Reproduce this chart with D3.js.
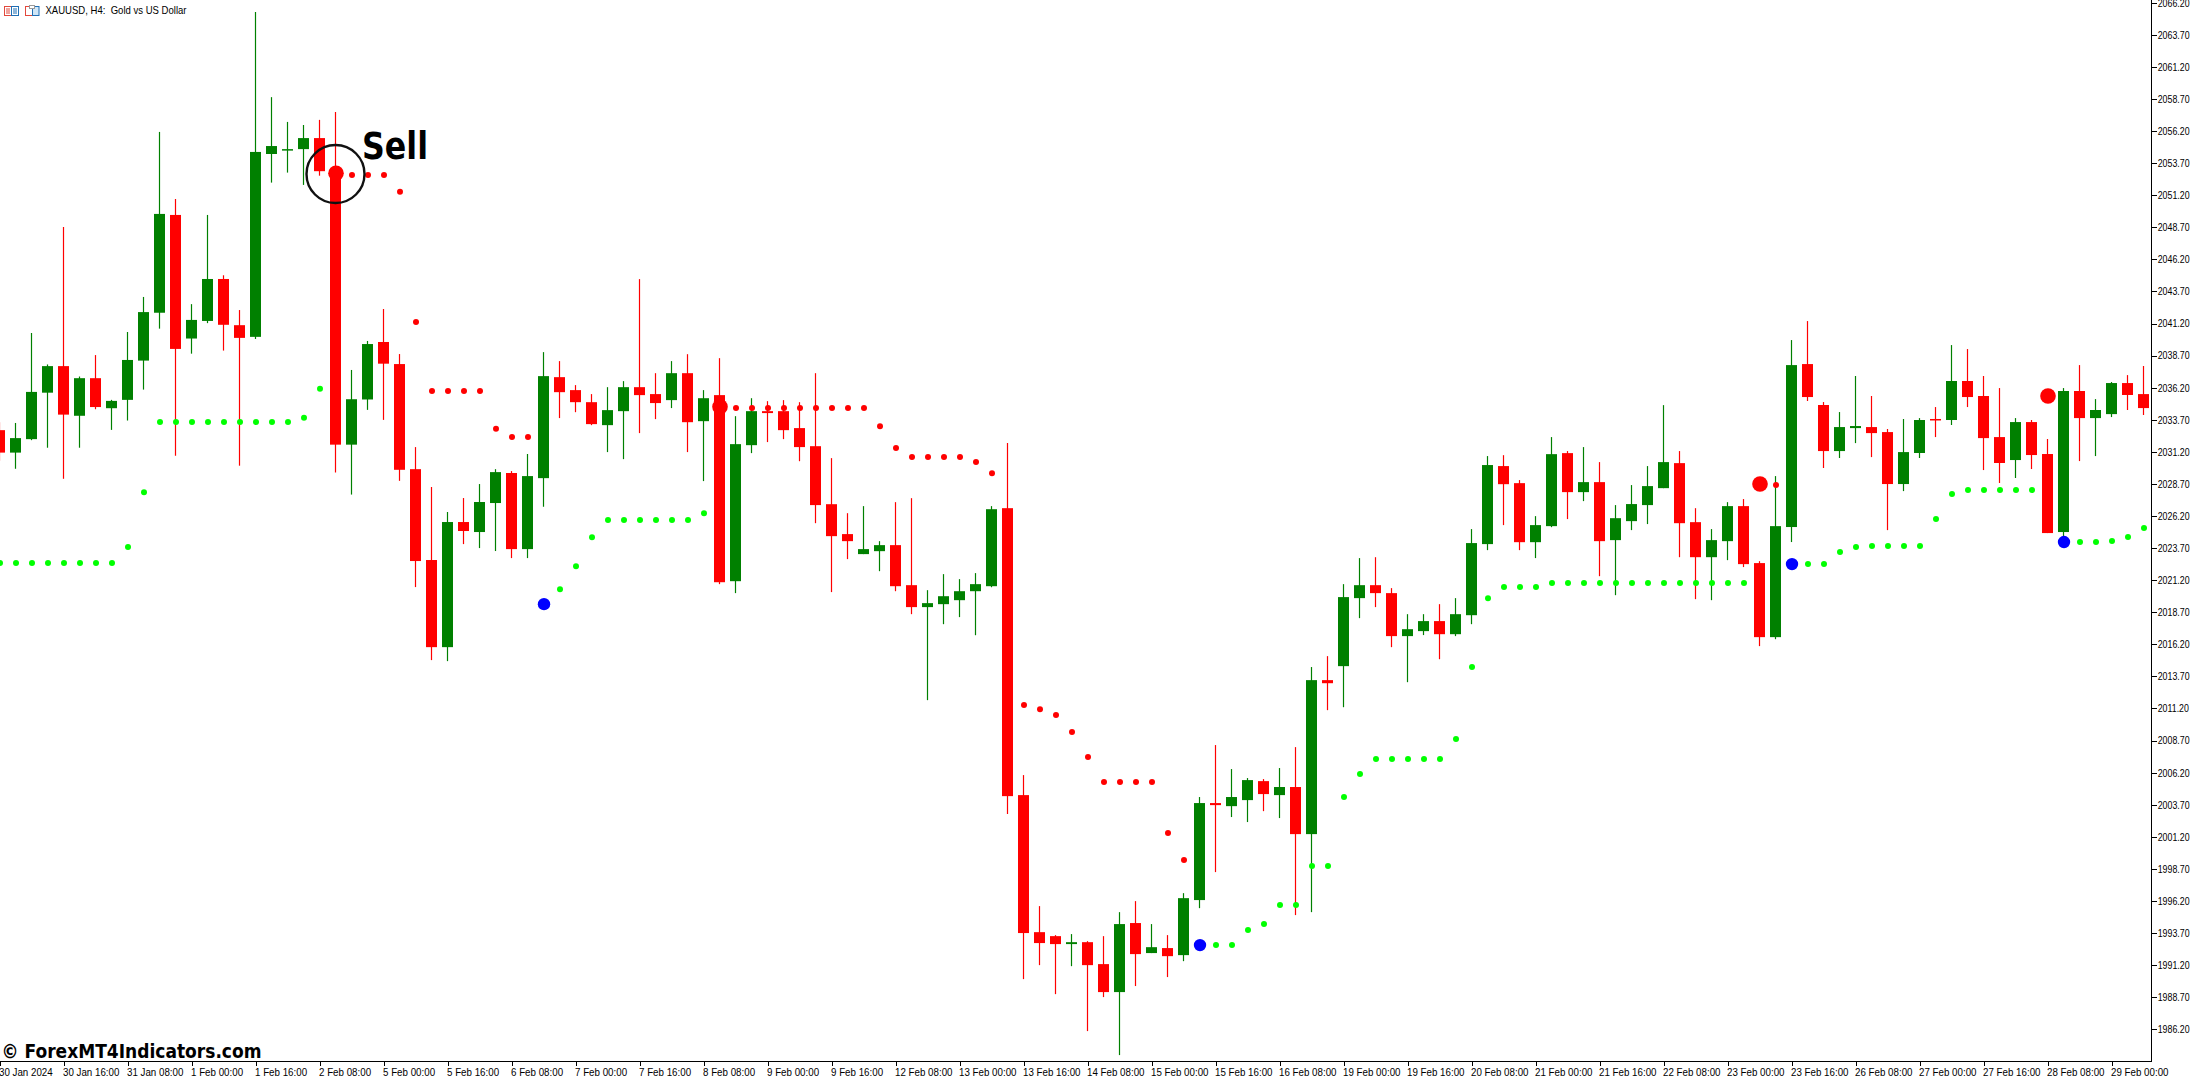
<!DOCTYPE html>
<html>
<head>
<meta charset="utf-8">
<title>XAUUSD, H4</title>
<script src="https://cdn.jsdelivr.net/npm/d3@7"></script>
<style>
    html, body { margin: 0; padding: 0; background: #fff; overflow: hidden; }
    svg { display: block; }
    .axis text { font-family: "Liberation Sans", sans-serif; font-size: 10.5px; fill: #000; }
    .axis path, .axis line { stroke: #000; stroke-width: 1; shape-rendering: crispEdges; }
    .axis path { stroke-width: 1.4; }
</style>
</head>
<body>
<svg id="chart" width="2192" height="1077"></svg>
<script>
'use strict';

var open = [
    2032.89, 2031.14, 2032.19, 2035.81, 2037.88, 2034.01, 2036.94, 2034.60, 2035.25, 2038.31,
    2042.04, 2049.66, 2040.03, 2041.40, 2044.67, 2041.07, 2040.16, 2054.41, 2054.68, 2054.79,
    2055.65, 2053.07, 2031.76, 2035.28, 2039.76, 2038.04, 2029.85, 2022.77, 2015.98, 2025.73,
    2024.95, 2027.21, 2029.55, 2023.62, 2029.15, 2037.02, 2036.01, 2035.07, 2033.28, 2034.37,
    2036.24, 2035.70, 2035.23, 2037.33, 2033.59, 2035.62, 2021.12, 2031.72, 2034.37, 2034.37,
    2033.05, 2031.64, 2027.12, 2024.79, 2023.23, 2023.46, 2023.93, 2020.81, 2019.10, 2019.33,
    2019.64, 2020.34, 2020.73, 2026.81, 2004.45, 1993.77, 1993.46, 1992.84, 1992.99, 1991.28,
    1989.10, 1994.48, 1992.14, 1992.53, 1991.98, 1996.27, 2003.83, 2003.59, 2004.06, 2005.54,
    2004.45, 2005.08, 2001.41, 2013.41, 2014.50, 2019.80, 2020.81, 2020.19, 2016.84, 2017.23,
    2018.01, 2016.99, 2018.47, 2024.01, 2030.09, 2028.76, 2024.16, 2025.41, 2031.10, 2028.06,
    2028.84, 2024.32, 2025.80, 2027.05, 2028.37, 2030.32, 2025.72, 2022.99, 2024.24, 2026.97,
    2022.53, 2016.76, 2025.34, 2038.04, 2034.85, 2031.26, 2033.05, 2033.13, 2032.74, 2028.69,
    2031.11, 2033.76, 2033.68, 2036.72, 2035.55, 2032.35, 2030.56, 2033.52, 2031.03, 2024.95,
    2035.94, 2033.83, 2034.14, 2036.56, 2035.70
];
var high = [
    2033.50, 2033.45, 2040.46, 2038.01, 2048.72, 2037.07, 2038.74, 2035.25, 2040.54, 2043.27,
    2056.13, 2050.90, 2042.71, 2049.66, 2044.96, 2042.25, 2065.47, 2058.84, 2056.91, 2056.67,
    2057.07, 2057.69, 2037.58, 2039.84, 2042.33, 2038.82, 2031.57, 2028.46, 2026.51, 2027.60,
    2028.69, 2029.85, 2029.70, 2031.03, 2038.97, 2038.27, 2036.40, 2035.70, 2036.24, 2036.71,
    2044.66, 2037.33, 2038.27, 2038.81, 2036.01, 2038.50, 2033.98, 2035.38, 2035.15, 2035.23,
    2035.07, 2037.33, 2030.71, 2026.42, 2026.97, 2024.24, 2027.28, 2027.59, 2020.42, 2021.67,
    2021.28, 2021.75, 2026.97, 2031.88, 2006.01, 1995.80, 1993.54, 1993.62, 1993.07, 1993.46,
    1995.33, 1996.19, 1994.40, 1993.54, 1996.81, 2004.30, 2008.35, 2006.48, 2005.78, 2005.70,
    2006.56, 2008.19, 2014.43, 2015.28, 2020.89, 2022.92, 2022.99, 2020.58, 2018.55, 2018.55,
    2019.33, 2019.80, 2025.18, 2030.87, 2030.94, 2029.00, 2026.19, 2032.35, 2031.26, 2031.57,
    2030.40, 2027.05, 2028.61, 2030.09, 2034.84, 2031.26, 2026.81, 2025.18, 2027.28, 2027.52,
    2022.68, 2029.31, 2039.91, 2041.39, 2035.08, 2034.30, 2037.11, 2035.55, 2032.98, 2033.76,
    2033.83, 2034.69, 2039.52, 2039.21, 2037.11, 2036.17, 2033.83, 2033.68, 2032.20, 2036.17,
    2037.96, 2035.31, 2036.64, 2037.18, 2037.89
];
var low = [
    2030.50, 2029.88, 2032.11, 2031.52, 2029.10, 2031.52, 2034.52, 2032.91, 2033.64, 2036.05,
    2040.80, 2030.90, 2038.85, 2041.23, 2039.09, 2030.12, 2040.00, 2052.18, 2052.96, 2052.00,
    2052.72, 2029.59, 2027.87, 2034.47, 2033.69, 2028.94, 2020.66, 2014.97, 2014.89, 2024.01,
    2023.70, 2023.47, 2022.92, 2022.92, 2026.92, 2033.83, 2034.29, 2033.28, 2031.18, 2030.63,
    2032.66, 2033.75, 2034.61, 2031.18, 2028.92, 2020.89, 2020.19, 2031.10, 2031.96, 2032.19,
    2030.47, 2025.64, 2020.27, 2022.84, 2023.23, 2021.90, 2020.34, 2018.55, 2011.85, 2017.77,
    2018.32, 2016.91, 2020.65, 2002.97, 1990.11, 1991.20, 1988.94, 1991.12, 1986.06, 1988.71,
    1984.19, 1989.57, 1992.14, 1990.27, 1991.51, 1995.64, 1998.45, 2002.74, 2002.35, 2003.20,
    2002.66, 1995.10, 1995.33, 2011.07, 2011.30, 2018.24, 2019.10, 2015.98, 2013.25, 2016.92,
    2015.04, 2016.84, 2017.77, 2023.54, 2025.49, 2023.54, 2022.92, 2025.33, 2025.96, 2027.36,
    2021.51, 2020.03, 2025.10, 2025.57, 2028.37, 2022.99, 2019.72, 2019.64, 2022.76, 2022.22,
    2016.06, 2016.60, 2024.17, 2035.16, 2029.94, 2030.72, 2031.88, 2030.79, 2025.10, 2028.14,
    2030.72, 2032.35, 2033.29, 2034.69, 2029.78, 2028.77, 2029.16, 2029.86, 2024.87, 2024.64,
    2030.48, 2030.87, 2033.91, 2034.46, 2034.07
];
var close = [
    2031.14, 2032.27, 2035.87, 2037.88, 2034.10, 2036.94, 2034.69, 2035.17, 2038.36, 2042.09,
    2049.74, 2039.22, 2041.48, 2044.67, 2041.10, 2040.08, 2054.57, 2055.03, 2054.79, 2055.65,
    2053.07, 2031.76, 2035.30, 2039.60, 2038.07, 2029.80, 2022.69, 2015.98, 2025.73, 2025.03,
    2027.29, 2029.62, 2023.62, 2029.31, 2037.10, 2035.85, 2035.07, 2033.36, 2034.45, 2036.24,
    2035.62, 2035.00, 2037.33, 2033.51, 2035.38, 2021.04, 2031.80, 2034.37, 2034.22, 2032.89,
    2031.57, 2027.05, 2024.63, 2024.24, 2023.62, 2023.93, 2020.73, 2019.10, 2019.41, 2019.95,
    2020.34, 2020.89, 2026.73, 2004.37, 1993.70, 1992.92, 1992.84, 1992.99, 1991.20, 1989.10,
    1994.40, 1992.06, 1992.60, 1991.90, 1996.42, 2003.83, 2003.67, 2004.30, 2005.62, 2004.53,
    2005.08, 2001.41, 2013.41, 2013.17, 2019.88, 2020.81, 2020.19, 2016.84, 2017.38, 2018.01,
    2016.99, 2018.55, 2024.09, 2030.17, 2028.68, 2024.16, 2025.49, 2031.02, 2028.06, 2028.84,
    2024.24, 2026.03, 2027.13, 2028.53, 2030.40, 2025.64, 2022.99, 2024.32, 2026.97, 2022.45,
    2016.76, 2025.41, 2037.96, 2035.47, 2031.26, 2033.13, 2033.21, 2032.66, 2028.69, 2031.18,
    2033.68, 2033.68, 2036.72, 2035.47, 2032.27, 2030.33, 2033.52, 2030.95, 2024.87, 2035.94,
    2033.83, 2034.46, 2036.56, 2035.63, 2034.61
];

// small lime dots under the price: [candle index, price]
var greenDots = [
    [0, 2022.53], [1, 2022.53], [2, 2022.53], [3, 2022.53], [4, 2022.53], [5, 2022.53], [6, 2022.53], [7, 2022.53],
    [8, 2023.78], [9, 2028.06], [10, 2033.53], [11, 2033.53], [12, 2033.53], [13, 2033.53], [14, 2033.53],
    [15, 2033.53], [16, 2033.53], [17, 2033.53], [18, 2033.53], [19, 2033.85], [20, 2036.11],
    [35, 2020.50], [36, 2022.29], [37, 2024.55], [38, 2025.88], [39, 2025.88], [40, 2025.88], [41, 2025.88],
    [42, 2025.88], [43, 2025.88], [44, 2026.42],
    [76, 1992.76], [77, 1992.76], [78, 1993.93], [79, 1994.40], [80, 1995.88], [81, 1995.88], [82, 1998.92],
    [83, 1998.92], [84, 2004.30], [85, 2006.09], [86, 2007.26], [87, 2007.26], [88, 2007.26], [89, 2007.26],
    [90, 2007.26], [91, 2008.82], [92, 2014.43], [93, 2019.80], [94, 2020.66], [95, 2020.66], [96, 2020.66],
    [97, 2020.97], [98, 2020.97], [99, 2020.97], [100, 2020.97], [101, 2020.97], [102, 2020.97], [103, 2020.97],
    [104, 2020.97], [105, 2020.97], [106, 2020.97], [107, 2020.97], [108, 2020.97], [109, 2020.97],
    [113, 2022.45], [114, 2022.45], [115, 2023.39], [116, 2023.78], [117, 2023.86], [118, 2023.86], [119, 2023.86],
    [120, 2023.86], [121, 2025.96], [122, 2027.91], [123, 2028.22], [124, 2028.22], [125, 2028.22], [126, 2028.22],
    [127, 2028.22], [130, 2024.17], [131, 2024.17], [132, 2024.25], [133, 2024.56], [134, 2025.26]
];
// small red dots above the price
var redDots = [
    [22, 2052.78], [23, 2052.78], [24, 2052.78], [25, 2051.46], [26, 2041.31], [27, 2035.95], [28, 2035.95],
    [29, 2035.95], [30, 2035.95], [31, 2032.99], [32, 2032.35], [33, 2032.35],
    [46, 2034.61], [47, 2034.61], [48, 2034.61], [49, 2034.61], [50, 2034.61], [51, 2034.61], [52, 2034.61],
    [53, 2034.61], [54, 2034.61], [55, 2033.20], [56, 2031.49], [57, 2030.79], [58, 2030.79], [59, 2030.79],
    [60, 2030.79], [61, 2030.40], [62, 2029.54],
    [64, 2011.47], [65, 2011.15], [66, 2010.69], [67, 2009.36], [68, 2007.41], [69, 2005.47], [70, 2005.47],
    [71, 2005.47], [72, 2005.47], [73, 2001.49], [74, 1999.39], [111, 2028.61]
];
var sellSignals = [[21, 2052.91], [45, 2034.71], [110, 2028.69], [128, 2035.55]];
var buySignals = [[34, 2019.33], [75, 1992.76], [112, 2022.45], [129, 2024.17]];

var priceTicks = d3.range(33).map(function (n) { return 2066.2 - n * 2.5; });
var timeLabels = [
    '30 Jan 2024', '30 Jan 16:00', '31 Jan 08:00', '1 Feb 00:00', '1 Feb 16:00', '2 Feb 08:00', '5 Feb 00:00',
    '5 Feb 16:00', '6 Feb 08:00', '7 Feb 00:00', '7 Feb 16:00', '8 Feb 08:00', '9 Feb 00:00', '9 Feb 16:00',
    '12 Feb 08:00', '13 Feb 00:00', '13 Feb 16:00', '14 Feb 08:00', '15 Feb 00:00', '15 Feb 16:00', '16 Feb 08:00',
    '19 Feb 00:00', '19 Feb 16:00', '20 Feb 08:00', '21 Feb 00:00', '21 Feb 16:00', '22 Feb 08:00', '23 Feb 00:00',
    '23 Feb 16:00', '26 Feb 08:00', '27 Feb 00:00', '27 Feb 16:00', '28 Feb 08:00', '29 Feb 00:00'
];

var plotRight = 2151.7,
    plotBottom = 1061.5,
    bodyWidth = 11,
    up = '#008000',
    down = '#ff0000';

var svg = d3.select('#chart');

var x = d3.scaleLinear().domain([0, 134]).range([-0.5, 2143.5]),
    y = d3.scaleLinear().domain([2066.2, 1986.2]).range([2.7, 1029.3]);

var candles = d3.range(open.length).map(function (i) {
    return {i: i, open: open[i], high: high[i], low: low[i], close: close[i]};
});

function candleColor(d) {
    return d.close >= d.open ? up : down;
}

var candle = svg.append('g').selectAll('g').data(candles).enter().append('g');

candle.append('line')
    .attr('x1', function (d) { return x(d.i); })
    .attr('x2', function (d) { return x(d.i); })
    .attr('y1', function (d) { return y(d.high); })
    .attr('y2', function (d) { return y(d.low); })
    .attr('stroke', candleColor)
    .attr('stroke-width', 1.2);

candle.append('rect')
    .attr('x', function (d) { return x(d.i) - bodyWidth / 2; })
    .attr('y', function (d) { return y(Math.max(d.open, d.close)); })
    .attr('width', bodyWidth)
    .attr('height', function (d) { return Math.max(1.5, Math.abs(y(d.open) - y(d.close))); })
    .attr('fill', candleColor);

function drawDots(list, color, radius) {
    svg.append('g').selectAll('circle').data(list).enter().append('circle')
        .attr('cx', function (d) { return x(d[0]) + 0.5; })
        .attr('cy', function (d) { return y(d[1]); })
        .attr('r', radius)
        .attr('fill', color);
}

drawDots(greenDots, '#00ff00', 3);
drawDots(redDots, '#ff0000', 3);
drawDots(sellSignals, '#ff0000', 7.8);
drawDots(buySignals, '#0000ff', 6.2);

// squeezes axis text sideways, the chart font is narrower than ours
function squeeze(selection, ratio, startX) {
    selection
        .attr('x', startX / ratio)
        .attr('transform', 'scale(' + ratio + ',1)');
}

var yAxis = d3.axisRight(y)
    .tickValues(priceTicks)
    .tickSize(5)
    .tickPadding(1)
    .tickFormat(d3.format('.2f'));

var yAxisG = svg.append('g')
    .attr('class', 'axis')
    .attr('transform', 'translate(' + plotRight + ',0)')
    .call(yAxis);
yAxisG.select('.domain').attr('d', 'M0,0V' + plotBottom);
yAxisG.selectAll('text').call(squeeze, 0.84, 6);

var xAxis = d3.axisBottom(x)
    .tickValues(timeLabels.map(function (d, n) { return n * 4; }))
    .tickSize(4)
    .tickPadding(3)
    .tickFormat(function (d) { return timeLabels[d / 4]; });

var xAxisG = svg.append('g')
    .attr('class', 'axis')
    .attr('transform', 'translate(0,' + plotBottom + ')')
    .call(xAxis);
xAxisG.select('.domain').attr('d', 'M0,0H' + plotRight);
xAxisG.selectAll('text').attr('text-anchor', 'start').call(squeeze, 0.93, -1);

// header line
var header = svg.append('g');
header.append('rect').attr('x', 4.5).attr('y', 6.5).attr('width', 14).attr('height', 9).attr('fill', '#fff').attr('stroke', '#e2483c');
header.append('rect').attr('x', 11.5).attr('y', 6.5).attr('width', 7).attr('height', 9).attr('fill', '#fff').attr('stroke', '#1f6fb5');
[9, 11, 13].forEach(function (lineY) {
    header.append('line').attr('x1', 6).attr('x2', 10).attr('y1', lineY).attr('y2', lineY).attr('stroke', '#e2483c');
    header.append('line').attr('x1', 13).attr('x2', 17).attr('y1', lineY).attr('y2', lineY).attr('stroke', '#1f6fb5');
});
header.append('rect').attr('x', 25.5).attr('y', 6.5).attr('width', 7).attr('height', 9).attr('fill', '#fff').attr('stroke', '#e2483c');
header.append('rect').attr('x', 32.5).attr('y', 6.5).attr('width', 6.5).attr('height', 9).attr('fill', '#cfe6f7').attr('stroke', '#1f6fb5');
header.append('rect').attr('x', 29.5).attr('y', 5.5).attr('width', 5).attr('height', 3).attr('fill', '#fff').attr('stroke', '#999');

header.append('text')
    .attr('x', 45.5)
    .attr('y', 13.7)
    .attr('font-family', '"Liberation Sans", sans-serif')
    .attr('font-size', 11)
    .attr('textLength', 141)
    .attr('lengthAdjust', 'spacingAndGlyphs')
    .style('white-space', 'pre')
    .text('XAUUSD, H4:  Gold vs US Dollar');

// sell annotation
svg.append('circle')
    .attr('cx', x(21))
    .attr('cy', y(2052.85))
    .attr('r', 29)
    .attr('fill', 'none')
    .attr('stroke', '#111')
    .attr('stroke-width', 2.4);

svg.append('text')
    .attr('x', 362)
    .attr('y', 158.5)
    .attr('font-family', '"DejaVu Sans", sans-serif')
    .attr('font-weight', 'bold')
    .attr('font-size', 37)
    .attr('textLength', 66)
    .attr('lengthAdjust', 'spacingAndGlyphs')
    .text('Sell');

svg.append('text')
    .attr('x', 1.5)
    .attr('y', 1057.7)
    .attr('font-family', '"DejaVu Sans", sans-serif')
    .attr('font-weight', 'bold')
    .attr('font-size', 19)
    .attr('textLength', 260)
    .attr('lengthAdjust', 'spacingAndGlyphs')
    .text('\u00a9 ForexMT4Indicators.com');
</script>
</body>
</html>
